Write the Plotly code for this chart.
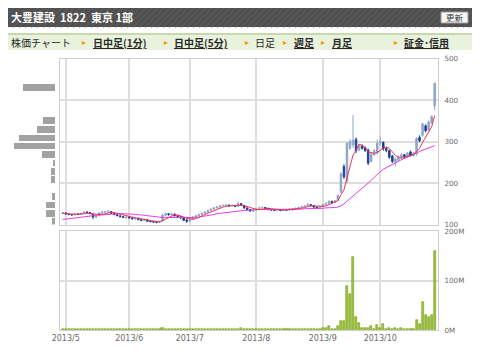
import plotly.graph_objects as go

# ---------------- data ----------------
month_tick_index = [1, 22, 42, 64, 86, 105]
month_labels = ["2013/5", "2013/6", "2013/7", "2013/8", "2013/9", "2013/10"]

open_ = [126,128,125,124,123,125,124,127,130,129,
         125,117,121,128,129,131,131,127,124,121,
         119,116,118,116,113,115,112,110,111,108,
         107,106,105,108,122,126,123,125,121,119,
         116,111,108,112,118,121,124,127,130,134,
         137,140,142,145,146,147,145,146,144,150,
         146,140,136,132,134,138,140,141,139,136,
         135,134,135,134,136,135,137,136,139,141,
         143,145,148,146,142,140,143,148,151,156,
         153,158,178,240,205,284,292,305,280,290,
         285,280,252,268,272,296,298,283,278,265,
         250,255,262,268,264,275,266,270,310,315,
         338,328,345,386]
high = [130,129,126,125,127,126,128,132,132,130,
        126,122,129,131,133,134,132,128,125,122,
        121,120,119,117,117,116,113,113,112,110,
        108,107,109,126,129,127,128,126,122,120,
        117,113,114,120,123,126,129,132,136,139,
        142,144,147,148,149,148,148,147,155,152,
        147,141,137,136,140,143,143,142,140,137,
        136,137,136,138,137,139,138,141,143,145,
        147,151,149,147,143,145,150,153,158,157,
        159,172,226,245,298,306,364,310,294,293,
        288,282,275,282,305,312,300,286,280,268,
        262,266,272,270,275,278,275,310,315,346,
        341,350,363,442]
low = [125,124,122,121,122,123,123,126,127,125,
       113,116,120,126,128,129,125,122,120,117,
       116,115,114,112,112,110,108,109,106,105,
       104,103,104,107,120,121,122,119,116,113,
       108,104,107,111,117,120,123,126,129,133,
       136,139,141,144,145,143,144,142,143,145,
       138,134,130,131,133,137,139,137,134,133,
       132,133,132,133,133,134,134,135,138,140,
       142,144,144,140,138,139,142,147,150,151,
       152,157,176,210,200,280,285,272,276,281,
       275,243,250,265,268,290,278,274,258,248,
       240,252,258,260,262,264,264,266,298,312,
       322,325,342,376]
close = [129,125,124,123,125,124,127,130,129,126,
         118,120,128,130,131,132,127,124,121,119,
         117,118,116,114,115,112,110,111,108,107,
         106,105,107,122,126,124,125,121,119,116,
         110,108,112,118,121,124,127,130,134,137,
         140,142,145,146,147,145,146,144,150,147,
         140,136,133,134,138,140,141,139,136,135,
         134,135,134,136,135,137,136,139,141,143,
         145,148,146,142,140,143,148,151,156,153,
         157,170,222,215,296,300,303,278,290,283,
         278,248,270,278,296,300,282,278,262,252,
         258,262,268,263,272,266,272,307,302,342,
         326,347,360,440]

ma_short = [127,127,126,125,125.2,124.2,124.6,125.8,127,127.2,
            126,124.6,124.2,124.4,125.4,128.2,129.6,128.8,127,124.6,
            121.6,119.8,118.2,116.8,116,115,113.4,112.4,111.2,109.6,
            108.4,107.4,106.6,109.4,113.2,116.8,120.8,123.6,123,121,
            118.2,114.8,113,112.8,113.8,116.6,120.4,124,127.2,130.4,
            133.6,136.6,139.6,142,144,145,145.8,145.6,146.4,146.4,
            145.4,143.4,141.2,138,136.2,136.2,137.2,138.4,138.8,138.2,
            137,135.8,134.8,134.8,134.8,135.4,135.6,136.6,137.6,139.2,
            140.8,143.2,144.6,144.8,144.2,143.8,143.8,144.8,147.6,150.2,
            153,157.4,171.6,183.4,212,240.6,267.2,278.4,293.4,290.8,
            286.4,275.4,273.8,271.4,274,278.4,285.2,286.8,283.6,274.8,
            266.4,262.4,260.4,260.6,264.6,266.2,268.2,276,283.8,297.8,
            309.8,324.8,335.4,363]
ma_long = [112,113,114,115,116,117,118,119,120,121,
           121,122,123,123,124,124,125,125,126,126,
           126,126,125,125,124,124,123,122,121,120,
           119,118,117,117,117,117,117,117,116,116,
           116,116,116,116,117,118,119,120,121,123,
           124,126,127,128,129,130,131,132,133,133,
           134,134,135,135,136,136,136,137,137,137,
           137,137,137,137,137,137,137,137,137,137,
           138,138,138,138,139,139,139,140,140,141,
           141,142,145,150,156,162,168,174,180,187,
           193,200,206,214,221,228,233,237,241,245,
           249,252,256,259,262,265,269,272,276,279,
           282,285,288,290]

volume_m = [2,2,2,2,3,2,2,2.5,2,2,
            2,2,2,2,2,2,2,2,2,2,
            2,2,2,2,2,2,2,2,2,2,
            2,2,2,5,2,2,2,2,2,2,
            2,2,2,2,2,2,2,2.5,2,2,
            2,2,2,2,2,2,2,2,2.5,3.5,
            2,2,2,2,2,2,2,2,2,2,
            2,2,2,2,2,2,2,3,2,2,
            3,2,2,2,2,2.7,3.5,4,7.4,3,
            2,7.4,17.6,17.6,88,73,148,26,15,5,
            4,5,8,3,11,4,13,3,5,2,
            4,3,4,3,3,2,2,21,12,56,
            30,27,31,160]

vp_price = [108,128,148,168,209,229,249,270,290,310,330,352,432]
vp_volume_m = [15,44,44,15,20,20,10,66,207,178,88,60,162]

price_ticks = [100, 200, 300, 400, 500]
volume_ticks = [0, 100, 200]
volume_tick_labels = ["0M", "100M", "200M"]

title_text = "大豊建設  1822  東京 1部"
tab_items = [("株価チャート", False), ("日中足(1分)", True), ("日中足(5分)", True),
             ("日足", False), ("週足", True), ("月足", True), ("証金･信用", True)]

# ---------------- layout helpers ----------------
# the page body has an 8px margin, so the figure sits at (8, 8) in the window
OFF = 8
W, H = 480 - OFF, 358 - OFF
def fx(p): return (p - OFF) / W
def fy(p): return 1 - (p - OFF) / H

idx = list(range(len(close)))
UP = "#8fa5c8"
DOWN = "#1d3f94"
GRID = "#dedede"
FRAME = "#cfcfcf"
NUMFONT = "DejaVu Sans"
JP = "Noto Sans CJK JP"

fig = go.Figure()

fig.add_trace(go.Candlestick(
    x=idx, open=open_, high=high, low=low, close=close,
    increasing=dict(line=dict(color=UP, width=1), fillcolor=UP),
    decreasing=dict(line=dict(color=DOWN, width=1), fillcolor=DOWN),
    whiskerwidth=0, xaxis="x", yaxis="y", showlegend=False, hoverinfo="skip"))
fig.add_trace(go.Scatter(x=idx, y=ma_long, mode="lines",
                         line=dict(color="#e040e8", width=1), xaxis="x", yaxis="y",
                         showlegend=False, hoverinfo="skip"))
fig.add_trace(go.Scatter(x=idx, y=ma_short, mode="lines",
                         line=dict(color="#f0334d", width=1), xaxis="x", yaxis="y",
                         showlegend=False, hoverinfo="skip"))
fig.add_trace(go.Bar(x=idx, y=volume_m, width=0.68,
                     marker=dict(color="#9bc33b", line=dict(color="#78a015", width=0.6)),
                     xaxis="x2", yaxis="y2", showlegend=False, hoverinfo="skip"))
fig.add_trace(go.Bar(y=vp_price, x=vp_volume_m, orientation="h", width=16,
                     marker=dict(color="#a2a2a2", line=dict(width=0)),
                     xaxis="x3", yaxis="y3", showlegend=False, hoverinfo="skip"))

px_l, px_r = 60, 438
price_top, price_bot = 58.5, 224.5
vol_top, vol_bot = 231, 330

xbase = dict(range=[-0.9, 124.1], tickvals=month_tick_index, ticktext=month_labels,
             showgrid=True, gridcolor=GRID, gridwidth=1.5, zeroline=False,
             showline=True, mirror=True, linecolor=FRAME, linewidth=1, ticks="",
             automargin=False, rangeslider=dict(visible=False), fixedrange=True)

fig.update_layout(
    template="none",
    width=W, height=H, margin=dict(l=0, r=0, t=0, b=0, pad=0), autosize=False,
    paper_bgcolor="white", plot_bgcolor="white", bargap=0,
    xaxis=dict(domain=[fx(px_l), fx(px_r)], anchor="y", showticklabels=False, **xbase),
    yaxis=dict(domain=[fy(price_bot), fy(price_top)], anchor="x", side="right",
               range=[100, 500], tickvals=price_ticks, showgrid=True, gridcolor=GRID, gridwidth=1.5,
               zeroline=False, showline=True, mirror=True, linecolor=FRAME, ticks="",
               ticklabelstandoff=4, automargin=False,
               tickfont=dict(family=NUMFONT, size=7.2, color="#6a6a6a")),
    xaxis2=dict(domain=[fx(px_l), fx(px_r)], anchor="y2", matches="x",
                tickfont=dict(family=NUMFONT, size=8, color="#6a6a6a"), **xbase),
    yaxis2=dict(domain=[fy(vol_bot), fy(vol_top)], anchor="x2", side="right",
                range=[0, 200], tickvals=volume_ticks, ticktext=volume_tick_labels,
                showgrid=True, gridcolor=GRID, gridwidth=1.5, zeroline=False,
                showline=True, mirror=True, linecolor=FRAME, ticks="", ticklabelstandoff=4,
                automargin=False,
                tickfont=dict(family=NUMFONT, size=7.2, color="#6a6a6a")),
    xaxis3=dict(domain=[fx(0 + OFF), fx(55)], anchor="y3", range=[275 * (55 - OFF) / 55, 0],
                visible=False, automargin=False),
    yaxis3=dict(domain=[fy(price_bot), fy(price_top)], anchor="x3", range=[100, 500],
                visible=False, automargin=False),
)

shapes = []
annotations = []
# header bar
shapes.append(dict(type="rect", xref="paper", yref="paper", x0=fx(7), x1=fx(473), y0=fy(27), y1=fy(6),
                   fillcolor="#4f4f4f", line=dict(width=0), layer="below"))
for k in range(-3, 80):
    x0 = 7 + k * 6
    if x0 + 21 <= 7 or x0 >= 473:
        continue
    sx, sy = (x0, 27) if x0 >= 7 else (7, 27 - (7 - x0))
    ex, ey = (x0 + 21, 6) if x0 + 21 <= 473 else (473, 6 + (x0 + 21 - 473))
    shapes.append(dict(type="line", xref="paper", yref="paper", x0=fx(sx), y0=fy(sy),
                       x1=fx(ex), y1=fy(ey), line=dict(color="#585858", width=2), layer="below"))
annotations.append(dict(text=f"<b>{title_text}</b>", xref="paper", yref="paper", x=fx(9), y=fy(17),
                        xanchor="left", yanchor="middle", showarrow=False,
                        font=dict(family=JP, size=11, color="white")))
shapes.append(dict(type="rect", xref="paper", yref="paper", x0=fx(441), x1=fx(468), y0=fy(23), y1=fy(12),
                   fillcolor="#f6f6f6", line=dict(color="#9a9a9a", width=1)))
annotations.append(dict(text="更新", xref="paper", yref="paper", x=fx(454.5), y=fy(17.5),
                        xanchor="center", yanchor="middle", showarrow=False,
                        font=dict(family=JP, size=8.5, color="#333333")))
# tab bar
shapes.append(dict(type="rect", xref="paper", yref="paper", x0=fx(7), x1=fx(473), y0=fy(50), y1=fy(34),
                   fillcolor="#e9f2dc", line=dict(width=0), layer="below"))
shapes.append(dict(type="line", xref="paper", yref="paper", x0=fx(7), x1=fx(473), y0=fy(34), y1=fy(34),
                   line=dict(color="#c6d9ac", width=2)))
tab_x = [9, 91, 172, 253, 292, 330, 402]
tri_x = [None, 84, 166, 247, 285, 323, 396]
for (label, link), tx, trx in zip(tab_items, tab_x, tri_x):
    txt = f"<b><u>{label}</u></b>" if link else label
    annotations.append(dict(text=txt, xref="paper", yref="paper", x=fx(tx), y=fy(42.5),
                            xanchor="left", yanchor="middle", showarrow=False,
                            font=dict(family=JP, size=10, color="#2a2a2a")))
    if trx is not None:
        annotations.append(dict(text="▸", xref="paper", yref="paper", x=fx(trx), y=fy(42.5),
                                xanchor="center", yanchor="middle", showarrow=False,
                                font=dict(family="DejaVu Sans", size=8, color="#f09a00")))
fig.update_layout(shapes=shapes, annotations=annotations)

fig.write_html("out.html")
